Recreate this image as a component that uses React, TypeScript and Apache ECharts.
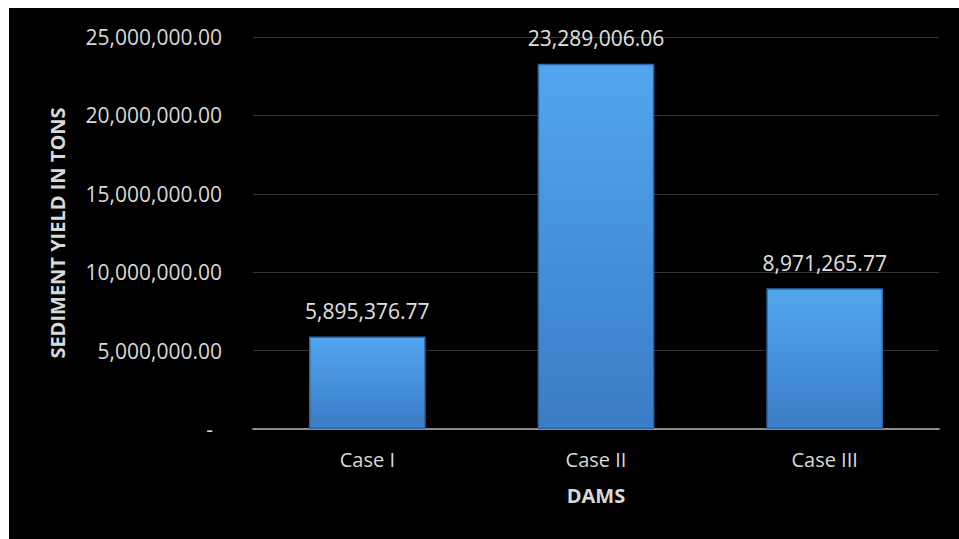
import React, { useEffect, useRef } from "react";
import * as echarts from "echarts";

const categories = ["Case I", "Case II", "Case III"];
const sedimentYield = [5895376.77, 23289006.06, 8971265.77];
const yTicks = [0, 5000000, 10000000, 15000000, 20000000, 25000000];

const fmt = (v: number) =>
  v.toLocaleString("en-US", { minimumFractionDigits: 2, maximumFractionDigits: 2 });

export default function App() {
  const ref = useRef<HTMLDivElement>(null);
  useEffect(() => {
    if (!ref.current) return;
    const chart = echarts.init(ref.current, null, { renderer: "svg" });
    const font = "'Open Sans', sans-serif";
    chart.setOption({
      animation: false,
      backgroundColor: "#000000",
      grid: { left: 244, right: 20, top: 29, bottom: 110, containLabel: false },
      xAxis: {
        type: "category",
        data: categories,
        name: "DAMS",
        nameLocation: "middle",
        nameGap: 56,
        nameTextStyle: { color: "#d9d9d9", fontFamily: font, fontSize: 20, fontWeight: "bold" },
        axisLine: { lineStyle: { color: "#8c8c8c", width: 2 } },
        axisTick: { show: false },
        axisLabel: { color: "#d9d9d9", fontFamily: font, fontSize: 20, margin: 20 },
      },
      yAxis: {
        type: "value",
        min: yTicks[0],
        max: yTicks[yTicks.length - 1],
        interval: 5000000,
        name: "SEDIMENT YIELD IN TONS",
        nameLocation: "middle",
        nameRotate: 90,
        nameGap: 186,
        nameTextStyle: { color: "#d9d9d9", fontFamily: font, fontSize: 20, fontWeight: "bold" },
        axisLine: { show: false },
        axisTick: { show: false },
        splitLine: { lineStyle: { color: "#333333", width: 1 } },
        axisLabel: {
          color: "#d9d9d9",
          fontFamily: font,
          fontSize: 21,
          margin: 31,
          formatter: (v: number) => (v === 0 ? "{z|-}" : fmt(v)),
          rich: { z: { color: "#d9d9d9", fontFamily: font, fontSize: 21, padding: [0, 9, 0, 0] } },
        },
      },
      series: [
        {
          type: "bar",
          data: sedimentYield,
          barWidth: "51%",
          itemStyle: {
            color: new echarts.graphic.LinearGradient(0, 0, 0, 1, [
              { offset: 0, color: "#52a6ee" },
              { offset: 1, color: "#3b7cc6" },
            ]),
            borderColor: "#2e68a8",
            borderWidth: 1.5,
          },
          label: {
            show: true,
            position: "top",
            distance: 15,
            color: "#e0e0e0",
            fontFamily: font,
            fontSize: 21,
            formatter: (p: any) => fmt(p.value),
          },
        },
      ],
    });
    return () => chart.dispose();
  }, []);
  return (
    <div
      ref={ref}
      style={{ position: "fixed", left: 9, top: 8, width: 950, height: 531 }}
    />
  );
}
